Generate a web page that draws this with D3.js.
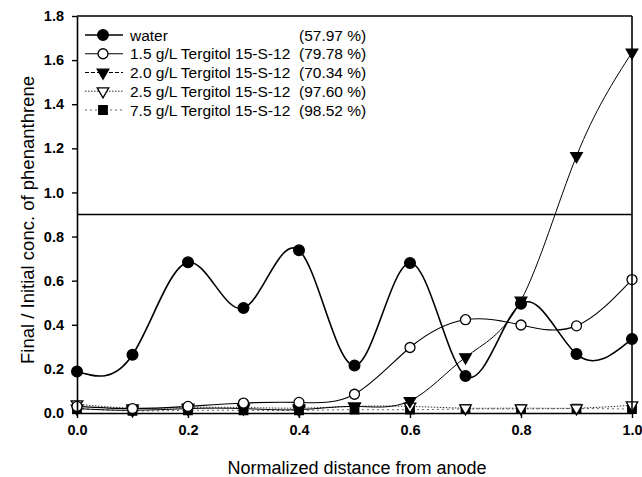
<!DOCTYPE html>
<html><head><meta charset="utf-8">
<script src="https://cdn.jsdelivr.net/npm/d3@7"></script>
<style>body{margin:0;background:#fff}svg{display:block}</style>
</head><body><svg id="c" width="642" height="477"></svg>
<script>
const xValues = [0.0, 0.1, 0.2, 0.3, 0.4, 0.5, 0.6, 0.7, 0.8, 0.9, 1.0];
const water = [0.188, 0.264, 0.683, 0.476, 0.738, 0.215, 0.680, 0.168, 0.495, 0.267, 0.336];
const terg15 = [0.03, 0.02, 0.03, 0.045, 0.048, 0.085, 0.297, 0.423, 0.399, 0.395, 0.605];
const terg20 = [0.02, 0.012, 0.02, 0.02, 0.015, 0.03, 0.055, 0.253, 0.51, 1.165, 1.635];
const terg25 = [0.04, 0.022, 0.025, 0.025, 0.022, 0.03, 0.03, 0.022, 0.022, 0.022, 0.035];
const terg75 = [0.02, 0.01, 0.012, 0.012, 0.012, 0.015, 0.015, 0.018, 0.018, 0.02, 0.018];
const seriesNames = ["water", "1.5 g/L Tergitol 15-S-12", "2.0 g/L Tergitol 15-S-12", "2.5 g/L Tergitol 15-S-12", "7.5 g/L Tergitol 15-S-12"];
const removalLabels = ["(57.97 %)", "(79.78 %)", "(70.34 %)", "(97.60 %)", "(98.52 %)"];
const xTicks = [0.0, 0.2, 0.4, 0.6, 0.8, 1.0];
const yTicks = [0.0, 0.2, 0.4, 0.6, 0.8, 1.0, 1.2, 1.4, 1.6, 1.8];
const referenceLevel = 0.9;
const xTitle = "Normalized distance from anode";
const yTitle = "Final / Initial conc. of phenanthrene";

const svg = d3.select("#c");
const W = 642, H = 477;
const m = {left: 77, right: 10, top: 16, bottom: 64};
const x = d3.scaleLinear().domain([0, 1]).range([m.left, W - m.right]);
const y = d3.scaleLinear().domain([0, 1.8]).range([H - m.bottom, m.top]);
const font = "'Liberation Sans', Arial, Helvetica, sans-serif";

svg.append("rect").attr("width", W).attr("height", H).attr("fill", "#fff");

const styles = [
  {vals: water, sym: d3.symbolCircle, size: 90, fill: "#000", lw: 1.6, dash: null, color: "#000", rot: 0},
  {vals: terg15, sym: d3.symbolCircle, size: 78, fill: "#fff", lw: 1.1, dash: null, color: "#000", rot: 0},
  {vals: terg20, sym: d3.symbolTriangle, size: 58, fill: "#000", lw: 1.0, dash: null, color: "#000", rot: 180},
  {vals: terg25, sym: d3.symbolTriangle, size: 58, fill: "#fff", lw: 1.0, dash: "1.5,1.5", color: "#333", rot: 180},
  {vals: terg75, sym: d3.symbolSquare, size: 72, fill: "#000", lw: 1.0, dash: "2,3", color: "#666", rot: 0}
];
const legendDash = [null, null, "4,2", "1.5,1.5", "2,3"];

const line = d3.line().x(d => x(d[0])).y(d => y(d[1])).curve(d3.curveNatural);

// reference line
svg.append("line").attr("x1", x(0)).attr("x2", x(1)).attr("y1", y(referenceLevel)).attr("y2", y(referenceLevel))
  .attr("stroke", "#000").attr("stroke-width", 1.3);

// series (draw low ones first)
[4, 3, 2, 1, 0].forEach(i => {
  const s = styles[i];
  const pts = xValues.map((xv, j) => [xv, s.vals[j]]);
  svg.append("path").attr("d", line(pts)).attr("fill", "none").attr("stroke", s.color)
    .attr("stroke-width", s.lw).attr("stroke-dasharray", s.dash);
});
[4, 3, 2, 1, 0].forEach(i => {
  const s = styles[i];
  const sym = d3.symbol().type(s.sym).size(s.size);
  svg.append("g").selectAll("path").data(xValues.map((xv, j) => [xv, s.vals[j]])).join("path")
    .attr("d", sym)
    .attr("transform", d => `translate(${x(d[0])},${y(d[1])}) rotate(${s.rot})`)
    .attr("fill", s.fill).attr("stroke", "#000").attr("stroke-width", 1.3);
});

// axes
const xAxis = d3.axisBottom(x).tickValues(xTicks).tickFormat(d3.format(".1f")).tickSizeInner(5).tickSizeOuter(0).tickPadding(14);
const yAxis = d3.axisLeft(y).tickValues(yTicks).tickFormat(d3.format(".1f")).tickSizeInner(5).tickSizeOuter(0).tickPadding(8);
const gx = svg.append("g").attr("transform", `translate(0,${y(0)})`).call(xAxis);
const gy = svg.append("g").attr("transform", `translate(${x(0)},0)`).call(yAxis);
[gx, gy].forEach(g => {
  g.selectAll("path").attr("stroke", "#000").attr("stroke-width", 1.6);
  g.selectAll("line").attr("stroke", "#000").attr("stroke-width", 1.4);
  g.selectAll("text").attr("font-family", font).attr("font-size", 14.5).attr("font-weight", "bold").attr("fill", "#000");
});
gx.selectAll("text").attr("dy", "0.2em");
// top & right frame
svg.append("line").attr("x1", x(0)).attr("x2", x(1)).attr("y1", y(1.8)).attr("y2", y(1.8)).attr("stroke", "#000").attr("stroke-width", 1.6);
svg.append("line").attr("x1", x(1)).attr("x2", x(1)).attr("y1", y(1.8)).attr("y2", y(0)).attr("stroke", "#000").attr("stroke-width", 1.6);

// titles
svg.append("text").attr("x", 357).attr("y", 474).attr("text-anchor", "middle")
  .attr("font-family", font).attr("font-size", 18).attr("fill", "#000").text(xTitle);
svg.append("text").attr("transform", `translate(34,220) rotate(-90)`).attr("text-anchor", "middle")
  .attr("font-family", font).attr("font-size", 18.5).attr("fill", "#000").text(yTitle);

// legend
const legY = d3.scaleLinear().domain([0, 4]).range([35, 110]);
seriesNames.forEach((name, i) => {
  const s = styles[i];
  const yy = legY(i);
  svg.append("line").attr("x1", 85).attr("x2", 123).attr("y1", yy).attr("y2", yy)
    .attr("stroke", s.color).attr("stroke-width", s.lw).attr("stroke-dasharray", legendDash[i]);
  svg.append("path").attr("d", d3.symbol().type(s.sym).size(s.size)())
    .attr("transform", `translate(103,${yy}) rotate(${s.rot})`)
    .attr("fill", s.fill).attr("stroke", "#000").attr("stroke-width", 1.3);
  svg.append("text").attr("x", 130).attr("y", yy + 5.5).attr("font-family", font).attr("font-size", 15.5)
    .attr("fill", "#000").text(name);
  svg.append("text").attr("x", 299).attr("y", yy + 5.5).attr("font-family", font).attr("font-size", 15.5)
    .attr("fill", "#000").text(removalLabels[i]);
});
</script></body></html>
